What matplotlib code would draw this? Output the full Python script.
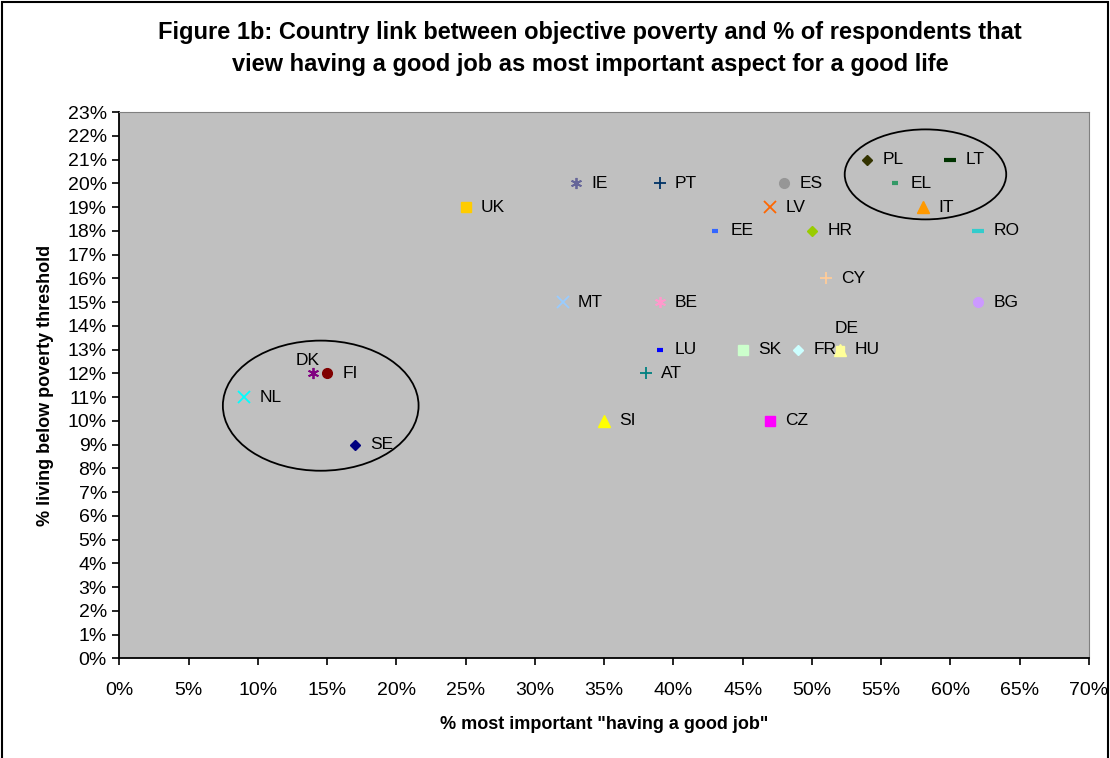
import matplotlib.pyplot as plt
from matplotlib.patches import Ellipse, Rectangle
from matplotlib.ticker import MultipleLocator, FuncFormatter

plt.rcParams["font.family"] = ["Liberation Sans", "DejaVu Sans"]

# data
countries = ["NL", "DK", "FI", "SE", "UK", "IE", "PT", "ES", "LV", "EE", "HR",
             "PL", "LT", "EL", "IT", "RO", "CY", "BG", "MT", "BE", "LU", "SK",
             "FR", "DE", "HU", "AT", "SI", "CZ"]
good_job = [9, 14, 15, 17, 25, 33, 39, 48, 47, 43, 50,
            54, 60, 56, 58, 62, 51, 62, 32, 39, 39, 45,
            49, 52, 52, 38, 35, 47]
poverty = [11, 12, 12, 9, 19, 20, 20, 20, 19, 18, 18,
           21, 21, 20, 19, 18, 16, 15, 15, 15, 13, 13,
           13, 13, 13, 12, 10, 10]

# marker style per country (marker, colour, size)
style = {
    "NL": ("x", "#00FFFF", 8), "DK": ((6, 2, 0), "#800080", 8),
    "FI": ("o", "#800000", 7), "SE": ("D", "#000080", 5.5),
    "UK": ("s", "#FFCC00", 7), "IE": ((6, 2, 0), "#666699", 8),
    "PT": ("+", "#003366", 8), "ES": ("o", "#969696", 7),
    "LV": ("x", "#FF6600", 8), "EE": ("_", "#3366FF", 5),
    "HR": ("D", "#99CC00", 5.5), "PL": ("D", "#333300", 5.5),
    "LT": ("_", "#003300", 8), "EL": ("_", "#339966", 5),
    "IT": ("^", "#FF9900", 8), "RO": ("_", "#33CCCC", 8),
    "CY": ("+", "#FFCC99", 8), "BG": ("o", "#CC99FF", 7),
    "MT": ("x", "#99CCFF", 8), "BE": ((6, 2, 0), "#FF99CC", 8),
    "LU": ("_", "#0000FF", 4.5), "SK": ("s", "#CCFFCC", 7),
    "FR": ("D", "#CCFFFF", 5.5), "DE": ("s", "#FFFF99", 6),
    "HU": ("^", "#FFFF99", 8), "AT": ("+", "#008080", 8),
    "SI": ("^", "#FFFF00", 8), "CZ": ("s", "#FF00FF", 7),
}

fig = plt.figure(figsize=(11.1, 7.58), dpi=100)
ax = fig.add_axes([0.1075, 0.1315, 0.8735, 0.7205])
ax.set_facecolor("#C0C0C0")

for c, x, y in zip(countries, good_job, poverty):
    m, col, ms = style[c]
    if m == "_":
        ax.plot(x, y, marker=m, color=col, ms=ms, mew=3, ls="none")
    elif m in ("x", "+") or isinstance(m, tuple):
        ax.plot(x, y, marker=m, color=col, ms=ms, mew=1.3, ls="none")
    else:
        ax.plot(x, y, marker=m, color=col, mec=col, ms=ms, ls="none")
    if c == "DK":
        ax.annotate(c, (x, y), xytext=(-4, 9), textcoords="offset points",
                    ha="center", va="center", fontsize=12.5)
    elif c == "DE":
        ax.annotate(c, (x, y), xytext=(5, 15), textcoords="offset points",
                    ha="center", va="center", fontsize=12.5)
    else:
        ax.annotate(c, (x, y), xytext=(11, 0), textcoords="offset points",
                    ha="left", va="center", fontsize=12.5)

# circled groups
ax.add_patch(Ellipse((14.54, 10.64), 14.13, 5.48, fill=False, ec="black", lw=1.3))
ax.add_patch(Ellipse((58.2, 20.38), 11.66, 3.79, fill=False, ec="black", lw=1.3))

ax.set_xlim(0, 70)
ax.set_ylim(0, 23)
ax.xaxis.set_major_locator(MultipleLocator(5))
ax.yaxis.set_major_locator(MultipleLocator(1))
pct = FuncFormatter(lambda v, p: f"{v:.0f}%")
ax.xaxis.set_major_formatter(pct)
ax.yaxis.set_major_formatter(pct)
ax.tick_params(direction="out", length=5, width=1.2, labelsize=14, pad=4)
ax.tick_params(axis="x", pad=12)
for s in ["top", "right"]:
    ax.spines[s].set_color("#808080")
for s in ["left", "bottom"]:
    ax.spines[s].set_linewidth(1.3)

ax.set_xlabel('% most important "having a good job"', fontsize=13,
              fontweight="bold", labelpad=12)
ax.set_ylabel("% living below poverty threshold", fontsize=13,
              fontweight="bold", labelpad=10)

fig.text(590 / 1110, 1 - 32 / 758,
         "Figure 1b: Country link between objective poverty and % of respondents that",
         ha="center", va="center", fontsize=17, fontweight="bold")
fig.text(590 / 1110, 1 - 64 / 758,
         "view having a good job as most important aspect for a good life",
         ha="center", va="center", fontsize=17, fontweight="bold")

# chart frame
fig.patches.append(Rectangle((0.002, -0.01), 0.9965, 1.007, transform=fig.transFigure,
                             fill=False, ec="black", lw=1.5))

fig.savefig("out.png", dpi=100)
